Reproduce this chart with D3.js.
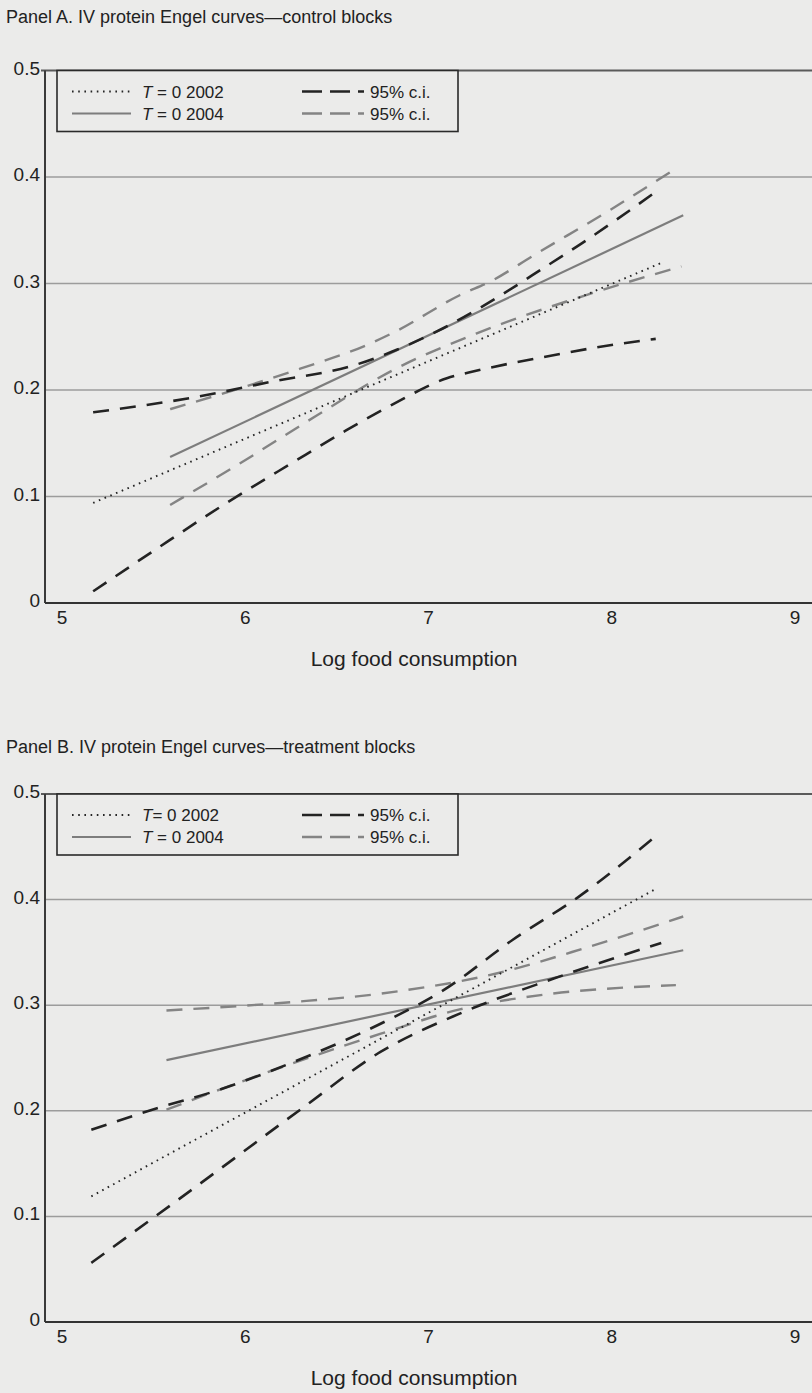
<!DOCTYPE html>
<html>
<head>
<meta charset="utf-8">
<script src="https://cdn.jsdelivr.net/npm/d3@7"></script>
<style>
  body { margin: 0; background: #ebebea; }
  svg { display: block; font-family: "Liberation Sans", Arial, Helvetica, sans-serif; }
</style>
</head>
<body>
<div id="chart"></div>
<script>
// x / y ticks
var xTicks = [5, 6, 7, 8, 9];
var yTicks = [0, 0.1, 0.2, 0.3, 0.4, 0.5];
var yTickLabels = ["0", "0.1", "0.2", "0.3", "0.4", "0.5"];

var titleA = "Panel A. IV protein Engel curves\u2014control blocks";
var titleB = "Panel B. IV protein Engel curves\u2014treatment blocks";
var xLabel = "Log food consumption";

// Panel A: control blocks  [log food, share]
var fit2002A = [[5.17, 0.094], [8.28, 0.320]];
var fit2004A = [[5.59, 0.137], [8.39, 0.364]];
var ci2002UpA = [[5.17, 0.179], [5.75, 0.194], [6.15, 0.208], [6.59, 0.223], [6.83, 0.238],
                 [7.08, 0.258], [7.28, 0.277], [7.65, 0.317], [7.83, 0.337], [8.24, 0.386]];
var ci2002LoA = [[5.17, 0.011], [5.50, 0.049], [5.88, 0.092], [6.26, 0.132], [6.55, 0.162],
                 [6.80, 0.186], [7.10, 0.211], [7.26, 0.218], [7.63, 0.231], [7.99, 0.242], [8.24, 0.248]];
var ci2004UpA = [[5.59, 0.182], [5.94, 0.200], [6.30, 0.220], [6.66, 0.242], [6.81, 0.254],
                 [7.17, 0.289], [7.35, 0.303], [7.57, 0.326], [8.00, 0.370], [8.35, 0.408]];
var ci2004LoA = [[5.59, 0.092], [5.97, 0.131], [6.39, 0.176], [6.81, 0.219], [7.26, 0.253],
                 [7.84, 0.288], [8.38, 0.316]];

// Panel B: treatment blocks
var fit2002B = [[5.16, 0.119], [8.25, 0.411]];
var fit2004B = [[5.57, 0.248], [8.39, 0.352]];
var ci2002UpB = [[5.16, 0.182], [5.51, 0.202], [5.86, 0.220], [6.26, 0.246], [6.78, 0.286],
                 [7.08, 0.314], [7.46, 0.362], [7.83, 0.404], [8.24, 0.460]];
var ci2002LoB = [[5.16, 0.056], [5.73, 0.128], [6.30, 0.201], [6.74, 0.256], [7.17, 0.292],
                 [7.68, 0.325], [8.27, 0.359]];
var ci2004UpB = [[5.57, 0.295], [6.26, 0.303], [6.74, 0.311], [7.37, 0.330], [7.87, 0.355], [8.39, 0.384]];
var ci2004LoB = [[5.57, 0.201], [6.08, 0.234], [6.74, 0.273], [7.17, 0.296], [7.68, 0.311],
                 [8.10, 0.317], [8.35, 0.319]];

var legendA = ["T = 0 2002", "T = 0 2004"];
var legendB = ["T= 0 2002", "T = 0 2004"];

var width = 812, height = 1393;

var svg = d3.select("#chart").append("svg")
  .attr("width", width)
  .attr("height", height);

// line styles
var styles = {
  fit2002: { stroke: "#252525", width: 1.9, dash: "1.6 4.6" },
  fit2004: { stroke: "#7d7d7d", width: 2.2, dash: null },
  ci2002: { stroke: "#232323", width: 2.6, dash: "16 11" },
  ci2004: { stroke: "#848484", width: 2.4, dash: "16 11" }
};

var x = d3.scaleLinear().domain([5, 9]).range([62, 795]);

function drawPanel(top, bottom, title, titleY, series, legendText) {
  var y = d3.scaleLinear().domain([0, 0.5]).range([bottom, top]);
  var g = svg.append("g");

  g.append("text")
    .attr("x", 6)
    .attr("y", titleY)
    .attr("font-size", 18)
    .attr("fill", "#222")
    .text(title);

  // gridlines
  g.selectAll(".grid")
    .data(yTicks.filter(function(d) { return d > 0 && d < 0.5; }))
    .enter()
    .append("line")
    .attr("x1", 45).attr("x2", width)
    .attr("y1", function(d) { return y(d); })
    .attr("y2", function(d) { return y(d); })
    .attr("stroke", "#9c9c9c")
    .attr("stroke-width", 1.5);

  // top frame line at 0.5
  g.append("line")
    .attr("x1", 41).attr("x2", width)
    .attr("y1", y(0.5)).attr("y2", y(0.5))
    .attr("stroke", "#5a5a5a")
    .attr("stroke-width", 2);

  // axes
  g.append("line")
    .attr("x1", 45).attr("x2", 45)
    .attr("y1", y(0.5)).attr("y2", y(0))
    .attr("stroke", "#3a3a3a")
    .attr("stroke-width", 2);
  g.append("line")
    .attr("x1", 45).attr("x2", width)
    .attr("y1", y(0)).attr("y2", y(0))
    .attr("stroke", "#333")
    .attr("stroke-width", 2.2);

  // y tick labels
  g.selectAll(".ylab")
    .data(yTicks)
    .enter()
    .append("text")
    .attr("x", 40)
    .attr("y", function(d) { return y(d) + 4; })
    .attr("text-anchor", "end")
    .attr("font-size", 19)
    .attr("fill", "#222")
    .text(function(d, i) { return yTickLabels[i]; });

  // x tick labels
  g.selectAll(".xlab")
    .data(xTicks)
    .enter()
    .append("text")
    .attr("x", function(d) { return x(d); })
    .attr("y", y(0) + 21)
    .attr("text-anchor", "middle")
    .attr("font-size", 19)
    .attr("fill", "#222")
    .text(function(d) { return d; });

  g.append("text")
    .attr("x", 414)
    .attr("y", y(0) + 63)
    .attr("text-anchor", "middle")
    .attr("font-size", 21)
    .attr("fill", "#222")
    .text(xLabel);

  var line = d3.line()
    .x(function(d) { return x(d[0]); })
    .y(function(d) { return y(d[1]); })
    .curve(d3.curveMonotoneX);

  series.forEach(function(s) {
    var st = styles[s.style];
    g.append("path")
      .datum(s.data)
      .attr("d", line)
      .attr("fill", "none")
      .attr("stroke", st.stroke)
      .attr("stroke-width", st.width)
      .attr("stroke-dasharray", st.dash)
      .attr("stroke-linecap", "butt");
  });

  // legend
  var lg = g.append("g");
  lg.append("rect")
    .attr("x", 57).attr("y", y(0.5))
    .attr("width", 401).attr("height", 61)
    .attr("fill", "#ebebea")
    .attr("stroke", "#2a2a2a")
    .attr("stroke-width", 1.6);

  var rows = [
    { y: y(0.5) + 21, left: "fit2002", right: "ci2002", label: legendText[0] },
    { y: y(0.5) + 43, left: "fit2004", right: "ci2004", label: legendText[1] }
  ];
  rows.forEach(function(r) {
    var a = styles[r.left], b = styles[r.right];
    lg.append("line")
      .attr("x1", 72).attr("x2", 131)
      .attr("y1", r.y).attr("y2", r.y)
      .attr("stroke", a.stroke)
      .attr("stroke-width", a.width)
      .attr("stroke-dasharray", a.dash);
    var t = lg.append("text")
      .attr("x", 142).attr("y", r.y + 6)
      .attr("font-size", 17)
      .attr("fill", "#222");
    var parts = r.label.split("T");
    t.append("tspan").attr("font-style", "italic").text("T");
    t.append("tspan").text(parts[1]);

    lg.append("line")
      .attr("x1", 302).attr("x2", 364)
      .attr("y1", r.y).attr("y2", r.y)
      .attr("stroke", b.stroke)
      .attr("stroke-width", b.width)
      .attr("stroke-dasharray", "20 8");
    lg.append("text")
      .attr("x", 370).attr("y", r.y + 6)
      .attr("font-size", 17)
      .attr("fill", "#222")
      .text("95% c.i.");
  });
}

drawPanel(70.5, 603, titleA, 23, [
  { data: ci2004UpA, style: "ci2004" },
  { data: ci2004LoA, style: "ci2004" },
  { data: fit2004A, style: "fit2004" },
  { data: fit2002A, style: "fit2002" },
  { data: ci2002UpA, style: "ci2002" },
  { data: ci2002LoA, style: "ci2002" }
], legendA);

drawPanel(794, 1322, titleB, 753, [
  { data: ci2004UpB, style: "ci2004" },
  { data: ci2004LoB, style: "ci2004" },
  { data: fit2004B, style: "fit2004" },
  { data: fit2002B, style: "fit2002" },
  { data: ci2002UpB, style: "ci2002" },
  { data: ci2002LoB, style: "ci2002" }
], legendB);
</script>
</body>
</html>
